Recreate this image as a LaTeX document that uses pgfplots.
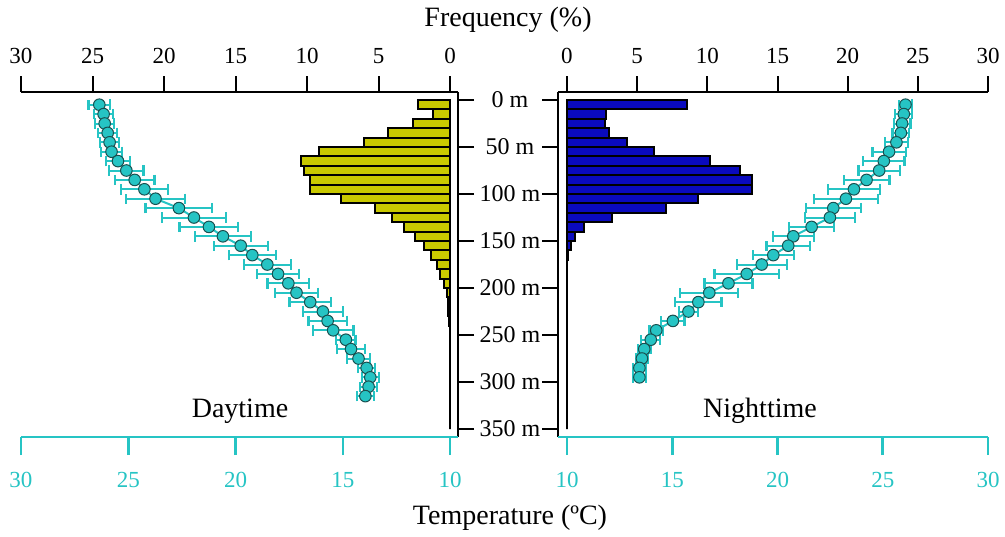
\documentclass[border=0pt]{standalone}
\usepackage{fontspec}
\setmainfont{Liberation Serif}
\usepackage{pgfplots}
\pgfplotsset{compat=1.18}

\definecolor{tq}{RGB}{38,196,196}
\definecolor{tqdark}{RGB}{25,80,80}
\definecolor{dayc}{RGB}{200,200,0}
\definecolor{nightc}{RGB}{10,10,190}

\pgfplotsset{
  panel/.style={scale only axis, anchor=north west, y dir=reverse,
    ymin=-8.5, ymax=358.5, height=172.5pt, clip=false,
    /pgf/number format/assume math mode=true,
    tick align=outside, major tick length=8pt, minor tick num=0},
  freq/.style={panel, axis x line*=top, xtick={0,5,...,30}, ytick={0,50,...,350},
    axis line style={line width=1pt, black}, tick style={line width=1pt, black},
    xticklabel style={font=\fontsize{11.5}{13}\selectfont, yshift=2.5pt}},
  temp/.style={panel, axis x line*=bottom, axis y line=none, xtick={10,15,...,30}, ytick=\empty,
    major tick length=9pt,
    axis line style={line width=1.3pt, tq}, tick style={line width=1.3pt, tq},
    xticklabel style={font=\fontsize{11.5}{13}\selectfont, text=tq, yshift=-5pt}},
  profile/.style={tq, line width=1pt, mark=*, mark size=2.9pt,
    mark options={fill=tq, draw=tqdark, line width=0.5pt},
    error bars/.cd, x dir=both, x explicit,
    error bar style={line width=1pt, tq},
    error mark options={rotate=90, mark size=2.6pt, line width=1.1pt, tq}},
}

\begin{document}
\begin{tikzpicture}
\path[use as bounding box] (0,0) rectangle (502.5pt,-268pt);

% daytime frequency
\begin{axis}[freq, at={(10.5pt,-46pt)}, width=218.5pt,
  xmin=-0.55, xmax=30, x dir=reverse, axis y line*=right,
  yticklabels={0 m,50 m,100 m,150 m,200 m,250 m,300 m,350 m},
  yticklabel style={font=\fontsize{12}{14}\selectfont, anchor=center, xshift=18pt}]
\addplot[xbar, bar width=10, fill=dayc, draw=black, line width=1pt] coordinates {
  (2.22,5) (1.21,15) (2.57,25) (4.36,35) (5.99,45) (9.14,55) (10.42,65) (10.23,75)
  (9.77,85) (9.77,95) (7.62,105) (5.24,115) (4.08,125) (3.20,135) (2.45,145) (1.80,155)
  (1.33,165) (0.93,175) (0.70,185) (0.40,195) (0.23,205) (0.16,215) (0.12,225) (0.07,235)
  (0,245) (0,255) (0,265) (0,275) (0,285) (0,295) (0,305) (0,315) (0,325) (0,335) (0,345)
};
\end{axis}

% daytime temperature
\begin{axis}[temp, at={(10.5pt,-46pt)}, width=218.5pt,
  xmin=9.633, xmax=30, x dir=reverse]
\addplot[profile] coordinates {
  (26.35,5) +- (0.50,0) (26.15,15) +- (0.45,0) (26.10,25) +- (0.45,0) (25.96,35) +- (0.45,0)
  (25.87,45) +- (0.45,0) (25.78,55) +- (0.50,0) (25.48,65) +- (0.57,0) (25.09,75) +- (0.80,0)
  (24.70,85) +- (0.92,0) (24.25,95) +- (1.10,0) (23.73,105) +- (1.37,0) (22.64,115) +- (1.56,0)
  (21.94,125) +- (1.50,0) (21.24,135) +- (1.37,0) (20.59,145) +- (1.31,0) (19.76,155) +- (1.26,0)
  (19.22,165) +- (1.09,0) (18.52,175) +- (1.09,0) (18.02,185) +- (0.98,0) (17.54,195) +- (0.97,0)
  (17.16,205) +- (1.00,0) (16.52,215) +- (0.97,0) (15.93,225) +- (0.92,0) (15.71,235) +- (0.89,0)
  (15.45,245) +- (0.95,0) (14.86,255) +- (0.45,0) (14.62,265) +- (0.67,0) (14.27,275) +- (0.55,0)
  (13.89,285) +- (0.40,0) (13.72,295) +- (0.40,0) (13.80,305) +- (0.40,0) (13.95,315) +- (0.40,0)
};
\end{axis}

% nighttime frequency
\begin{axis}[freq, at={(279pt,-46pt)}, width=215pt,
  xmin=-0.64, xmax=30, axis y line*=left, yticklabels={}]
\addplot[xbar, bar width=10, fill=nightc, draw=black, line width=1pt] coordinates {
  (8.57,5) (2.76,15) (2.69,25) (2.99,35) (4.30,45) (6.20,55) (10.17,65) (12.33,75)
  (13.21,85) (13.21,95) (9.36,105) (7.03,115) (3.23,125) (1.20,135) (0.60,145) (0.28,155)
  (0.10,165) (0,175) (0,185) (0,195) (0,205) (0,215) (0,225) (0,235) (0,245) (0,255)
  (0,265) (0,275) (0,285) (0,295) (0,305) (0,315) (0,325) (0,335) (0,345)
};
\end{axis}

% nighttime temperature
\begin{axis}[temp, at={(279pt,-46pt)}, width=215pt,
  xmin=9.573, xmax=30]
\addplot[profile] coordinates {
  (26.08,5) +- (0.32,0) (26.00,15) +- (0.40,0) (25.92,25) +- (0.40,0) (25.86,35) +- (0.40,0)
  (25.65,45) +- (0.55,0) (25.30,55) +- (0.79,0) (25.05,65) +- (0.98,0) (24.83,75) +- (0.98,0)
  (24.23,85) +- (1.09,0) (23.63,95) +- (1.23,0) (23.25,105) +- (1.53,0) (22.65,115) +- (1.30,0)
  (22.49,125) +- (1.20,0) (21.62,135) +- (1.06,0) (20.75,145) +- (0.98,0) (20.51,155) +- (1.03,0)
  (19.80,165) +- (0.98,0) (19.25,175) +- (1.19,0) (18.54,185) +- (1.53,0) (17.67,195) +- (1.14,0)
  (16.76,205) +- (1.38,0) (16.24,215) +- (1.10,0) (15.77,225) +- (0.44,0) (15.03,235) +- (0.55,0)
  (14.24,245) +- (0.32,0) (13.98,255) +- (0.45,0) (13.67,265) +- (0.30,0) (13.56,275) +- (0.30,0)
  (13.44,285) +- (0.30,0) (13.44,295) +- (0.30,0)
};
\end{axis}

\node[font=\fontsize{14}{16}\selectfont] at (254pt,-10pt) {Frequency (\%)};
\node[font=\fontsize{14}{16}\selectfont] at (255pt,-259pt) {Temperature (ºC)};
\node[font=\fontsize{14}{16}\selectfont] at (120pt,-205.5pt) {Daytime};
\node[font=\fontsize{14}{16}\selectfont] at (380pt,-205.5pt) {Nighttime};
\end{tikzpicture}
\end{document}
